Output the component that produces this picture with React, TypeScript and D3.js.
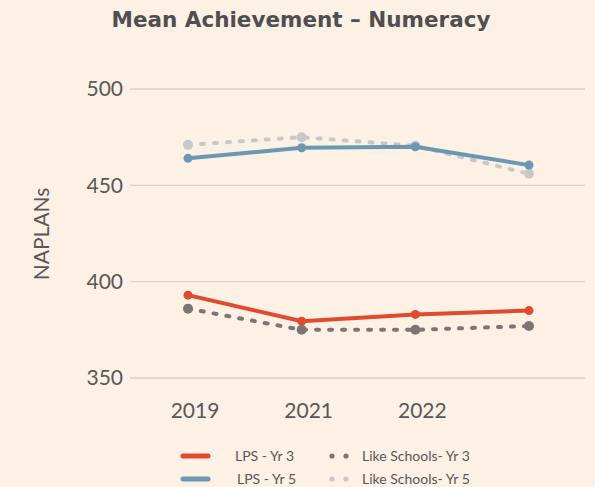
import React, { useRef, useEffect } from 'react';
import * as d3 from 'd3';

const years = ['2019', '2021', '2022', '2023'];
const yearLabels = ['2019', '2021', '2022', ''];
const lpsYr3 = [393, 379.5, 383, 385];
const lpsYr5 = [464, 469.5, 470, 460.5];
const likeYr3 = [386, 375, 375, 377];
const likeYr5 = [471, 475, 470.5, 456];
const yTicks = [350, 400, 450, 500];

const series = [
  { name: 'Like Schools- Yr 5', values: likeYr5, color: '#c6c9cc', dotted: true },
  { name: 'Like Schools- Yr 3', values: likeYr3, color: '#7b7673', dotted: true },
  { name: 'LPS - Yr 5', values: lpsYr5, color: '#6b97b2', dotted: false },
  { name: 'LPS - Yr 3', values: lpsYr3, color: '#e04b2f', dotted: false },
];

export default function App() {
  const ref = useRef<SVGSVGElement>(null);

  useEffect(() => {
    const svg = d3.select(ref.current);
    svg.selectAll('*').remove();

    const width = 595;
    const height = 487;
    const textColor = '#58585a';

    svg.append('rect').attr('width', width).attr('height', height).attr('fill', '#fdf0e4');

    const x = d3.scalePoint().domain(years).range([188, 529]);
    const y = d3.scaleLinear().domain([350, 500]).range([378, 89]);

    // title
    svg
      .append('text')
      .attr('x', 301)
      .attr('y', 27)
      .attr('text-anchor', 'middle')
      .attr('font-family', 'DejaVu Sans, sans-serif')
      .attr('font-weight', 700)
      .attr('font-size', 21.5)
      .attr('fill', '#4e4f51')
      .text('Mean Achievement – Numeracy');

    // gridlines + y tick labels
    const grid = svg.append('g');
    yTicks.forEach((t) => {
      grid
        .append('line')
        .attr('x1', 130)
        .attr('x2', 585)
        .attr('y1', y(t))
        .attr('y2', y(t))
        .attr('stroke', '#dcd2c8')
        .attr('stroke-width', 1.3);
      grid
        .append('text')
        .attr('x', 123)
        .attr('y', y(t))
        .attr('dy', '0.35em')
        .attr('text-anchor', 'end')
        .attr('font-family', 'Lato, sans-serif')
        .attr('font-size', 21)
        .attr('fill', textColor)
        .text(t);
    });

    // x tick labels
    years.forEach((yr, i) => {
      svg
        .append('text')
        .attr('x', x(yr)! + 7)
        .attr('y', 418)
        .attr('text-anchor', 'middle')
        .attr('font-family', 'Lato, sans-serif')
        .attr('font-size', 21)
        .attr('fill', textColor)
        .text(yearLabels[i]);
    });

    // y axis title
    svg
      .append('text')
      .attr('transform', 'translate(49,234) rotate(-90)')
      .attr('text-anchor', 'middle')
      .attr('font-family', 'Lato, sans-serif')
      .attr('font-size', 21)
      .attr('fill', textColor)
      .text('NAPLANs');

    const line = d3
      .line<number>()
      .x((_, i) => x(years[i])!)
      .y((d) => y(d));

    series.forEach((s) => {
      const g = svg.append('g');
      g.append('path')
        .attr('d', line(s.values))
        .attr('fill', 'none')
        .attr('stroke', s.color)
        .attr('stroke-width', 4)
        .attr('stroke-linecap', s.dotted ? 'round' : 'butt')
        .attr('stroke-dasharray', s.dotted ? '3,10' : null);
      g.selectAll('circle')
        .data(s.values)
        .enter()
        .append('circle')
        .attr('cx', (_, i) => x(years[i])!)
        .attr('cy', (d) => y(d))
        .attr('r', s.dotted ? 5 : 4.5)
        .attr('fill', s.color);
    });

    // legend
    const legend = [
      { name: 'LPS - Yr 3', color: '#e04b2f', dotted: false, lx: 183, ly: 456, tx: 235 },
      { name: 'LPS - Yr 5', color: '#6b97b2', dotted: false, lx: 183, ly: 479, tx: 237 },
      { name: 'Like Schools- Yr 3', color: '#7b7673', dotted: true, lx: 332, ly: 456, tx: 362 },
      { name: 'Like Schools- Yr 5', color: '#c6c9cc', dotted: true, lx: 332, ly: 479, tx: 362 },
    ];
    legend.forEach((l) => {
      if (l.dotted) {
        [0, 14].forEach((dx) =>
          svg
            .append('circle')
            .attr('cx', l.lx + dx)
            .attr('cy', l.ly)
            .attr('r', 2.6)
            .attr('fill', l.color)
        );
      } else {
        svg
          .append('line')
          .attr('x1', l.lx)
          .attr('x2', l.lx + 25)
          .attr('y1', l.ly)
          .attr('y2', l.ly)
          .attr('stroke', l.color)
          .attr('stroke-width', 5)
          .attr('stroke-linecap', 'round');
      }
      svg
        .append('text')
        .attr('x', l.tx)
        .attr('y', l.ly)
        .attr('dy', '0.35em')
        .attr('font-family', 'Lato, sans-serif')
        .attr('font-size', 14)
        .attr('fill', textColor)
        .text(l.name);
    });
  }, []);

  return (
    <svg
      ref={ref}
      width={595}
      height={487}
      style={{ position: 'absolute', left: 0, top: 0, display: 'block' }}
    />
  );
}
